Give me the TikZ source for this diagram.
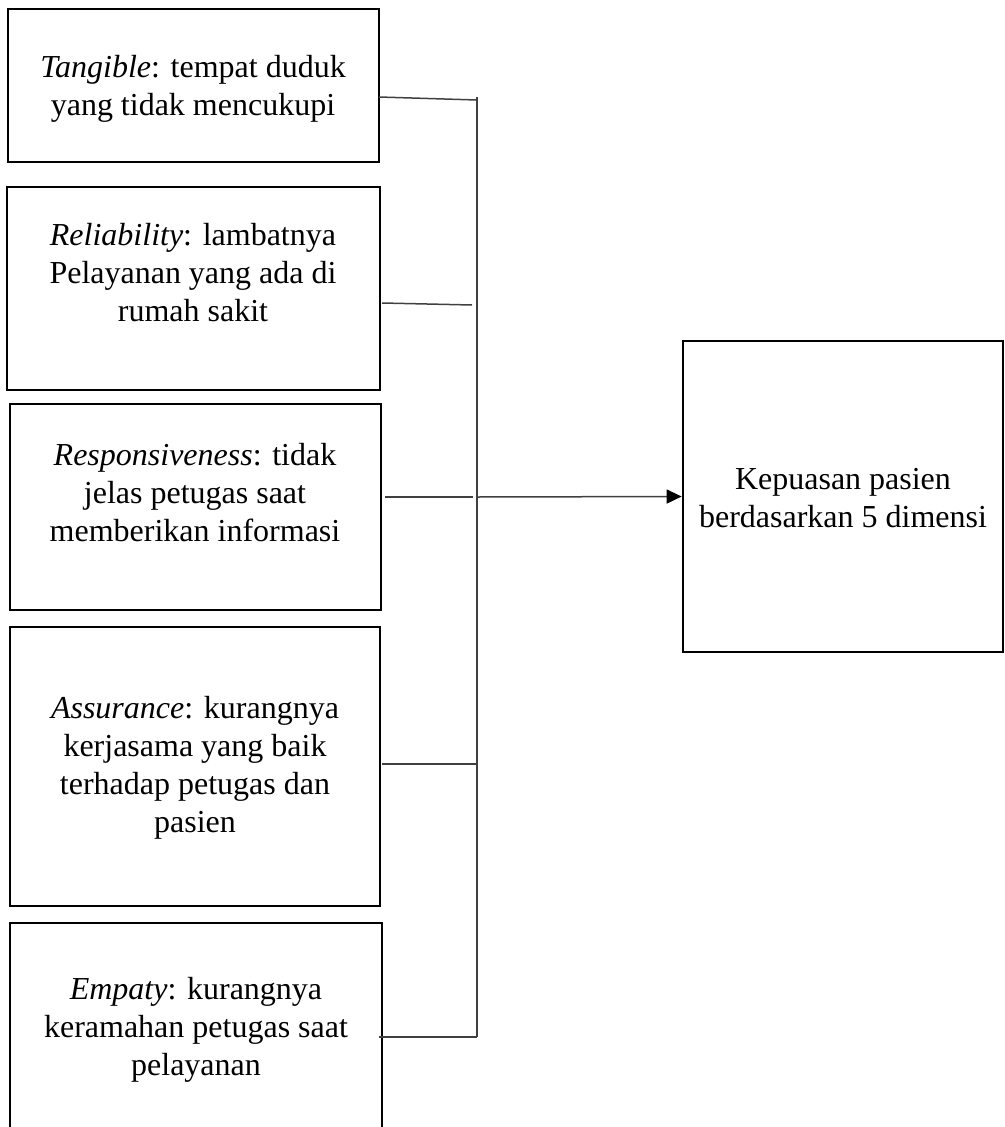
\documentclass[tikz,border=0pt]{standalone}
\usepackage{fontspec}
\setmainfont{Liberation Serif}
\usetikzlibrary{arrows.meta}
\begin{document}
\begin{tikzpicture}[x=1pt,y=-1pt,
  box/.style={draw=black,line width=2.7pt,inner sep=0pt},
  txt/.style={align=center,font=\fontsize{32}{38}\selectfont,inner sep=0pt},
  conn/.style={draw=black!75,line width=1.5pt}]
\clip (0,0) rectangle (1004,1127);
% boxes
\node[box,minimum width=371pt,minimum height=153pt] (b1) at (193.5,85.5) {};
\node[box,minimum width=373pt,minimum height=203pt] (b2) at (193.5,288.5) {};
\node[box,minimum width=371pt,minimum height=206pt] (b3) at (195.5,507) {};
\node[box,minimum width=370pt,minimum height=279pt] (b4) at (195,766.5) {};
\node[box,minimum width=372pt,minimum height=217pt] (b5) at (196,1031.5) {};
\node[box,minimum width=320pt,minimum height=311pt] (rb) at (843,496.5) {};
% texts
\node[txt] (t1) at (193,89) {\textit{Tangible}: tempat duduk\\yang tidak mencukupi};
\node[txt] (t2) at (193,273) {\textit{Reliability}: lambatnya\\Pelayanan yang ada di\\rumah sakit};
\node[txt] (t3) at (195,493) {\textit{Responsiveness}: tidak\\jelas petugas saat\\memberikan informasi};
\node[txt] (t4) at (195,768) {\textit{Assurance}: kurangnya\\kerjasama yang baik\\terhadap petugas dan\\pasien};
\node[txt] (t5) at (196,1030) {\textit{Empaty}: kurangnya\\keramahan petugas saat\\pelayanan};
\node[txt] (tr) at (843,498) {Kepuasan pasien\\berdasarkan 5 dimensi};
% connector points
\coordinate (vtop) at (477,97);
\coordinate (vbot) at (477,1037);
\coordinate (s1) at (379,97);  \coordinate (e1) at (477,100);
\coordinate (s2) at (382,303); \coordinate (e2) at (472,305);
\coordinate (s3) at (385,497); \coordinate (e3) at (473,497);
\coordinate (s4) at (382,764); \coordinate (e4) at (477,764);
\coordinate (s5) at (379,1037);
\coordinate (a0) at (477,497);
% connectors
\draw[conn] (vtop) -- (vbot);
\draw[conn] (s1) -- (e1);
\draw[conn] (s2) -- (e2);
\draw[conn] (s3) -- (e3);
\draw[conn] (s4) -- (e4);
\draw[conn] (s5) -- (vbot);
\draw[conn,-{Triangle[length=15pt,width=14pt,color=black]}] (a0) -- (rb.west);
\end{tikzpicture}
\end{document}
